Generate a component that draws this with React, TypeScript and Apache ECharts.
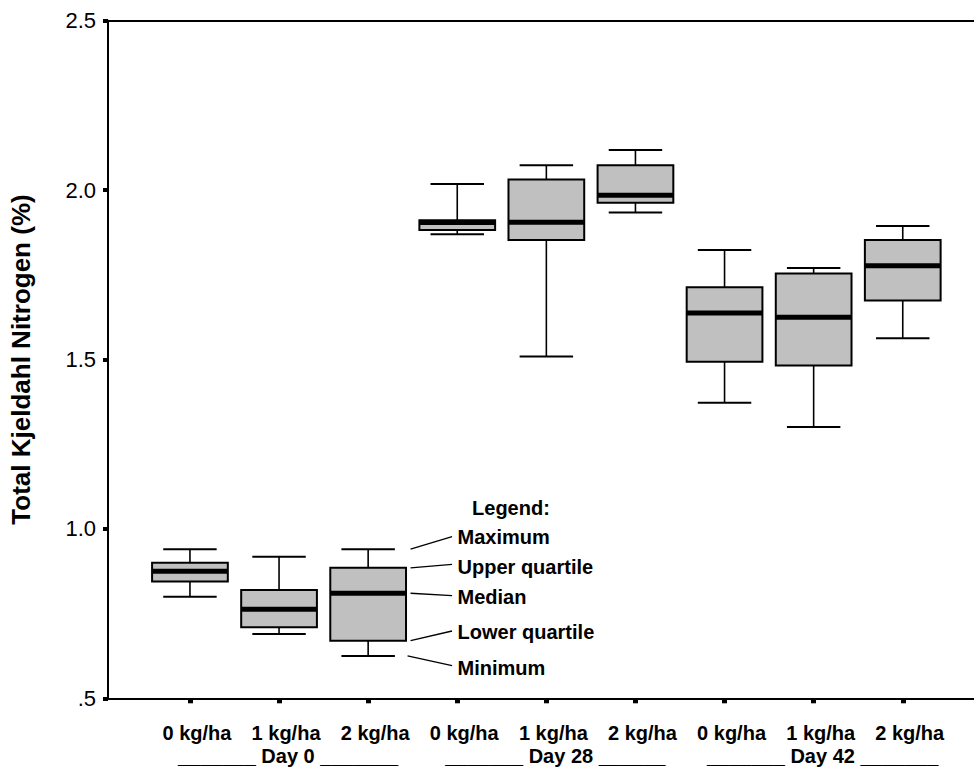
import React, { useEffect, useRef } from "react";
import * as echarts from "echarts";

// ---- data ----
const categories = [
  "0 kg/ha", "1 kg/ha", "2 kg/ha",
  "0 kg/ha", "1 kg/ha", "2 kg/ha",
  "0 kg/ha", "1 kg/ha", "2 kg/ha",
];
const groupLabels = ["_______ Day 0 _______", "_______ Day 28 ______", "_______ Day 42 _______"];
const minimums = [0.8, 0.69, 0.625, 1.87, 1.509, 1.934, 1.372, 1.301, 1.563];
const lowerQuartiles = [0.845, 0.71, 0.67, 1.882, 1.853, 1.963, 1.493, 1.482, 1.674];
const medians = [0.875, 0.763, 0.81, 1.904, 1.905, 1.985, 1.637, 1.625, 1.777];
const upperQuartiles = [0.9, 0.82, 0.885, 1.911, 2.031, 2.073, 1.713, 1.754, 1.853];
const maximums = [0.94, 0.918, 0.94, 2.018, 2.073, 2.118, 1.823, 1.77, 1.894];
const yMin = 0.5;
const yMax = 2.5;
const yStep = 0.5;
const yTitle = "Total Kjeldahl Nitrogen (%)";
const legendTitle = "Legend:";
const legendItems = ["Maximum", "Upper quartile", "Median", "Lower quartile", "Minimum"];
const legendBoxIndex = 2;

const FONT = "'Liberation Sans', Arial, Helvetica, sans-serif";

export default function App() {
  const ref = useRef<HTMLDivElement>(null);

  useEffect(() => {
    if (!ref.current) return;
    const chart = echarts.init(ref.current, undefined, { renderer: "svg" });

    const data = categories.map((_, i) => [
      i, minimums[i], lowerQuartiles[i], medians[i], upperQuartiles[i], maximums[i],
    ]);

    const BOX_FRAC = 0.85;
    const CAP_FRAC = 0.6;

    const option: any = {
      animation: false,
      backgroundColor: "#fff",
      grid: [
        { left: 144.4, right: 26.7, top: 20.7, bottom: 68.7 },
        { left: 107, right: -2, top: 20.7, bottom: 68.7 },
      ],
      xAxis: [
        {
          type: "category",
          gridIndex: 0,
          data: categories,
          boundaryGap: true,
          axisLine: { show: false },
          axisTick: {
            show: true,
            alignWithLabel: true,
            interval: 0,
            length: 5,
            lineStyle: { color: "#000", width: 5 },
          },
          axisLabel: {
            interval: 0,
            margin: 23,
            color: "#000",
            formatter: (value: string, index: number) =>
              index % 3 === 1
                ? `{a|${value}}\n{b|${groupLabels[(index - 1) / 3]}}`
                : `{a|${value}}`,
            rich: {
              a: {
                fontFamily: FONT, fontSize: 20, fontWeight: "bold", color: "#000", lineHeight: 23,
                padding: [0, 0, 0, 14],
              },
              b: {
                fontFamily: FONT, fontSize: 20, fontWeight: "bold", color: "#000", lineHeight: 23,
                padding: [0, 0, 0, 18],
              },
            },
          },
          splitLine: { show: false },
        },
        {
          type: "value",
          gridIndex: 1,
          position: "bottom",
          min: 0,
          max: 1,
          axisLine: { show: true, lineStyle: { color: "#000", width: 2 } },
          axisTick: { show: false },
          axisLabel: { show: false },
          splitLine: { show: false },
        },
        {
          type: "value",
          gridIndex: 1,
          position: "top",
          min: 0,
          max: 1,
          axisLine: { show: true, lineStyle: { color: "#000", width: 2 } },
          axisTick: { show: false },
          axisLabel: { show: false },
          splitLine: { show: false },
        },
      ],
      yAxis: [
        {
          type: "value",
          gridIndex: 0,
          min: yMin,
          max: yMax,
          interval: yStep,
          offset: 37.4,
          name: yTitle,
          nameLocation: "middle",
          nameGap: 74,
          nameRotate: 90,
          nameTextStyle: { fontFamily: FONT, fontSize: 26, fontWeight: "bold", color: "#000" },
          axisLine: { show: true, lineStyle: { color: "#000", width: 2 } },
          axisTick: { show: true, length: 5, lineStyle: { color: "#000", width: 4 } },
          axisLabel: {
            margin: 12,
            fontFamily: FONT,
            fontSize: 22,
            color: "#000",
            formatter: (v: number) => (v < 1 ? v.toFixed(1).replace(/^0/, "") : v.toFixed(1)),
          },
          splitLine: { show: false },
        },
        {
          type: "value",
          gridIndex: 1,
          min: 0,
          max: 1,
          show: false,
        },
      ],
      series: [
        {
          type: "custom",
          xAxisIndex: 0,
          yAxisIndex: 0,
          encode: { x: 0, y: [1, 2, 3, 4, 5] },
          data,
          renderItem: (params: any, api: any) => {
            const idx = api.value(0);
            const vMin = api.value(1);
            const vQ1 = api.value(2);
            const vMed = api.value(3);
            const vQ3 = api.value(4);
            const vMax = api.value(5);
            const band = api.size([1, 0])[0];
            const cx = api.coord([idx, vMed])[0];
            const y = (v: number) => api.coord([idx, v])[1];
            const bw = band * BOX_FRAC;
            const cw = band * CAP_FRAC;
            const wl = { stroke: "#000", lineWidth: 1.6 };
            return {
              type: "group",
              children: [
                { type: "line", shape: { x1: cx, y1: y(vQ3), x2: cx, y2: y(vMax) }, style: wl },
                { type: "line", shape: { x1: cx, y1: y(vQ1), x2: cx, y2: y(vMin) }, style: wl },
                { type: "line", shape: { x1: cx - cw / 2, y1: y(vMax), x2: cx + cw / 2, y2: y(vMax) }, style: { stroke: "#000", lineWidth: 2 } },
                { type: "line", shape: { x1: cx - cw / 2, y1: y(vMin), x2: cx + cw / 2, y2: y(vMin) }, style: { stroke: "#000", lineWidth: 2 } },
                {
                  type: "rect",
                  shape: { x: cx - bw / 2, y: y(vQ3), width: bw, height: y(vQ1) - y(vQ3) },
                  style: { fill: "#c0c0c0", stroke: "#000", lineWidth: 2 },
                },
                { type: "line", shape: { x1: cx - bw / 2, y1: y(vMed), x2: cx + bw / 2, y2: y(vMed) }, style: { stroke: "#000", lineWidth: 5 } },
              ],
            };
          },
        },
      ],
    };

    chart.setOption(option);

    // Legend annotation, anchored on the third box
    const i = legendBoxIndex;
    const vals = [maximums[i], upperQuartiles[i], medians[i], lowerQuartiles[i], minimums[i]];
    const pts = vals.map((v) => chart.convertToPixel({ seriesIndex: 0 }, [i, v]) as number[]);
    const bandPx = 89.2;
    const boxRight = pts[0][0] + (bandPx * BOX_FRAC) / 2;
    const labelYs = [536.7, 566.7, 596.7, 631.7, 668];
    const lineEndYs = [536.7, 564.3, 595.7, 631, 665.7];
    const startOffsets = [4.5, 4.5, 4.5, 4.5, 1.5];
    const graphic: any[] = [
      {
        type: "text",
        x: boxRight + 66,
        y: 508,
        style: {
          text: legendTitle,
          fontFamily: FONT,
          fontSize: 20,
          fontWeight: "bold",
          fill: "#000",
          align: "left",
          verticalAlign: "middle",
        },
      },
    ];
    legendItems.forEach((label, k) => {
      graphic.push({
        type: "line",
        shape: {
          x1: boxRight + startOffsets[k],
          y1: pts[k][1],
          x2: boxRight + 46,
          y2: lineEndYs[k],
        },
        style: { stroke: "#000", lineWidth: 1.3 },
      });
      graphic.push({
        type: "text",
        x: boxRight + 51.5,
        y: labelYs[k],
        style: {
          text: label,
          fontFamily: FONT,
          fontSize: 20,
          fontWeight: "bold",
          fill: "#000",
          align: "left",
          verticalAlign: "middle",
        },
      });
    });
    chart.setOption({ graphic });

    return () => chart.dispose();
  }, []);

  return (
    <div
      ref={ref}
      style={{ position: "fixed", left: 0, top: 0, width: 974, height: 767, background: "#fff" }}
    />
  );
}
